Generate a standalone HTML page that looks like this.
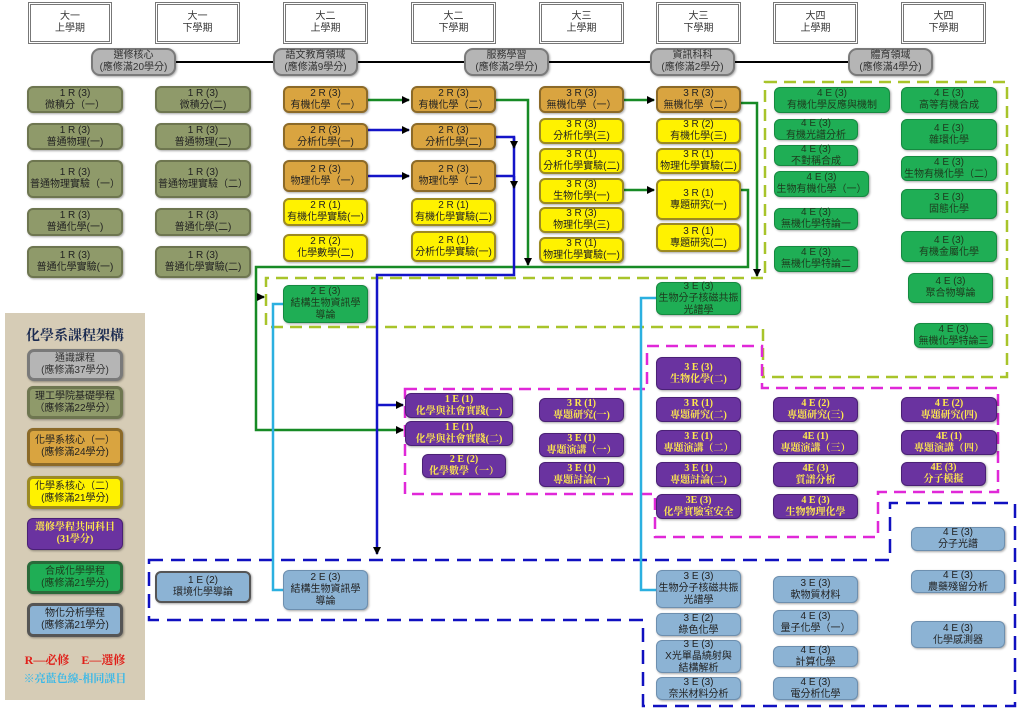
<!DOCTYPE html>
<html><head><meta charset="utf-8">
<style>
html,body{margin:0;padding:0;background:#fff;}
#c{position:relative;width:1024px;height:715px;overflow:hidden;font-family:"Liberation Sans","Noto Sans CJK TC",sans-serif;}
.b{position:absolute;box-sizing:border-box;display:flex;align-items:center;justify-content:center;text-align:center;font-size:10px;line-height:12px;border-radius:6px;white-space:nowrap;box-shadow:1px 1px 2px rgba(0,0,0,.35);}
.h{background:#fff;border:3px double #777;border-radius:0;box-shadow:none;color:#333;font-size:10px;}
.g{background:#b5b5b5;border:2px solid #7a7a7a;color:#333;border-radius:9px;}
.o{background:#8f9a6a;border:2px solid #6e7650;color:#222;}
.r{background:#d9a440;border:2px solid #8c6a28;color:#222;}
.y{background:#fff200;border:2px solid #9c8a22;color:#222;}
.p{background:#6a33a0;border:1px solid #4a2075;color:#ffe94d;font-weight:bold;font-family:"Liberation Serif","Noto Serif CJK SC",serif;}
.n{background:#1fae55;border:1px solid #158a40;color:#1d3a1d;}
.l{background:#8cb3d4;border:1px solid #6d8faf;color:#222;}
.lg{border-width:3px;}
</style></head><body><div id="c">
<svg width="1024" height="715" style="position:absolute;left:0;top:0">
<defs><marker id="a" markerWidth="8" markerHeight="8" refX="7" refY="4" orient="auto" markerUnits="userSpaceOnUse"><path d="M0,0L8,4L0,8z" fill="#000"/></marker></defs>
<rect x="5" y="313" width="140" height="387" fill="#d6ccb6"/>
<line x1="176" y1="62" x2="848" y2="62" stroke="#000" stroke-width="2"/>
<!-- green dashed -->
<path d="M765,82 L1007,82 L1007,377 L763,377 L763,327 L266,327 L266,278 L765,278 Z" fill="none" stroke="#a8c42a" stroke-width="2.5" stroke-dasharray="12,7"/>
<!-- magenta dashed -->
<path d="M405,389 L647,389 L647,346 L762,346 L762,388 L998,388 L998,492 L878,492 L878,537 L655,537 L655,494 L405,494 Z" fill="none" stroke="#e028d8" stroke-width="2.5" stroke-dasharray="12,7"/>
<!-- blue dashed -->
<path d="M149,560 L890,560 L890,503 L1015,503 L1015,706 L643,706 L643,620 L149,620 Z" fill="none" stroke="#1010c0" stroke-width="2.5" stroke-dasharray="14,8"/>
<g fill="none" stroke-width="2.5">
<!-- green -->
<path d="M368,100 L409,100" stroke="#178a25" marker-end="url(#a)"/>
<path d="M496,100 L528,100 L528,265" stroke="#178a25" marker-end="url(#a)"/>
<path d="M624,100 L654,100" stroke="#178a25" marker-end="url(#a)"/>
<path d="M741,103 L757,103 L757,276" stroke="#178a25" marker-end="url(#a)"/>
<path d="M624,190 L654,190" stroke="#178a25" marker-end="url(#a)"/>
<path d="M741,190 L748,190 L748,267 L256,267 L256,430 L403,430" stroke="#178a25" marker-end="url(#a)"/>
<path d="M256,297 L264,297" stroke="#178a25" marker-end="url(#a)"/>
<!-- blue -->
<path d="M368,130 L409,130" stroke="#1414c8" marker-end="url(#a)"/>
<path d="M368,176 L409,176" stroke="#1414c8" marker-end="url(#a)"/>
<path d="M496,137 L514,137 L514,275 L377,275 L377,554" stroke="#1414c8" marker-end="url(#a)"/>
<path d="M496,176 L514,176" stroke="#1414c8"/>
<path d="M514,137 L514,148" stroke="#1414c8" marker-end="url(#a)"/>
<path d="M514,176 L514,188" stroke="#1414c8" marker-end="url(#a)"/>
<path d="M377,405 L403,405" stroke="#1414c8" marker-end="url(#a)"/>
<!-- cyan -->
<path d="M283,304 L273,304 L273,590 L283,590" stroke="#2bb0e0"/>
<path d="M656,298 L641,298 L641,590 L656,590" stroke="#2bb0e0"/>
</g>
</svg>

<!-- headers -->
<div class="b h" style="left:28px;top:2px;width:84px;height:42px">大一<br>上學期</div>
<div class="b h" style="left:155px;top:2px;width:85px;height:42px">大一<br>下學期</div>
<div class="b h" style="left:283px;top:2px;width:85px;height:42px">大二<br>上學期</div>
<div class="b h" style="left:411px;top:2px;width:85px;height:42px">大二<br>下學期</div>
<div class="b h" style="left:539px;top:2px;width:85px;height:42px">大三<br>上學期</div>
<div class="b h" style="left:656px;top:2px;width:85px;height:42px">大三<br>下學期</div>
<div class="b h" style="left:773px;top:2px;width:85px;height:42px">大四<br>上學期</div>
<div class="b h" style="left:901px;top:2px;width:85px;height:42px">大四<br>下學期</div>

<div class="b g" style="left:91px;top:48px;width:85px;height:28px">選修核心<br>(應修滿20學分)</div>
<div class="b g" style="left:273px;top:48px;width:85px;height:28px">語文教育領域<br>(應修滿9學分)</div>
<div class="b g" style="left:464px;top:48px;width:85px;height:28px">服務學習<br>(應修滿2學分)</div>
<div class="b g" style="left:650px;top:48px;width:85px;height:28px">資訊科科<br>(應修滿2學分)</div>
<div class="b g" style="left:848px;top:48px;width:85px;height:28px">體育領域<br>(應修滿4學分)</div>

<!-- col1/2 -->
<div class="b o" style="left:27px;top:86px;width:96px;height:27px">1 R (3)<br>微積分（一）</div>
<div class="b o" style="left:27px;top:123px;width:96px;height:27px">1 R (3)<br>普通物理(一)</div>
<div class="b o" style="left:27px;top:160px;width:96px;height:38px">1 R (3)<br>普通物理實驗（一）</div>
<div class="b o" style="left:27px;top:208px;width:96px;height:28px">1 R (3)<br>普通化學(一)</div>
<div class="b o" style="left:27px;top:246px;width:96px;height:32px">1 R (3)<br>普通化學實驗(一)</div>
<div class="b o" style="left:155px;top:86px;width:96px;height:27px">1 R (3)<br>微積分(二)</div>
<div class="b o" style="left:155px;top:123px;width:96px;height:27px">1 R (3)<br>普通物理(二)</div>
<div class="b o" style="left:155px;top:160px;width:96px;height:38px">1 R (3)<br>普通物理實驗（二）</div>
<div class="b o" style="left:155px;top:208px;width:96px;height:28px">1 R (3)<br>普通化學(二)</div>
<div class="b o" style="left:155px;top:246px;width:96px;height:32px">1 R (3)<br>普通化學實驗(二)</div>

<!-- col3/4 -->
<div class="b r" style="left:283px;top:86px;width:85px;height:27px">2 R (3)<br>有機化學（一）</div>
<div class="b r" style="left:283px;top:123px;width:85px;height:27px">2 R (3)<br>分析化學(一)</div>
<div class="b r" style="left:283px;top:160px;width:85px;height:32px">2 R (3)<br>物理化學（一）</div>
<div class="b y" style="left:283px;top:198px;width:85px;height:28px">2 R (1)<br>有機化學實驗(一)</div>
<div class="b y" style="left:283px;top:234px;width:85px;height:28px">2 R (2)<br>化學數學(二)</div>
<div class="b r" style="left:411px;top:86px;width:85px;height:27px">2 R (3)<br>有機化學（二）</div>
<div class="b r" style="left:411px;top:123px;width:85px;height:27px">2 R (3)<br>分析化學(二)</div>
<div class="b r" style="left:411px;top:160px;width:85px;height:32px">2 R (3)<br>物理化學（二）</div>
<div class="b y" style="left:411px;top:198px;width:85px;height:28px">2 R (1)<br>有機化學實驗(二)</div>
<div class="b y" style="left:411px;top:231px;width:85px;height:31px">2 R (1)<br>分析化學實驗(一)</div>

<!-- col5/6 -->
<div class="b r" style="left:539px;top:86px;width:85px;height:27px">3 R (3)<br>無機化學（一）</div>
<div class="b y" style="left:539px;top:118px;width:85px;height:26px">3 R (3)<br>分析化學(三)</div>
<div class="b y" style="left:539px;top:148px;width:85px;height:26px">3 R (1)<br>分析化學實驗(二)</div>
<div class="b y" style="left:539px;top:178px;width:85px;height:26px">3 R (3)<br>生物化學(一)</div>
<div class="b y" style="left:539px;top:207px;width:85px;height:26px">3 R (3)<br>物理化學(三)</div>
<div class="b y" style="left:539px;top:237px;width:85px;height:26px">3 R (1)<br>物理化學實驗(一)</div>
<div class="b r" style="left:656px;top:86px;width:85px;height:27px">3 R (3)<br>無機化學（二）</div>
<div class="b y" style="left:656px;top:118px;width:85px;height:26px">3 R (2)<br>有機化學(三)</div>
<div class="b y" style="left:656px;top:148px;width:85px;height:26px">3 R (1)<br>物理化學實驗(二)</div>
<div class="b y" style="left:656px;top:179px;width:85px;height:41px">3 R (1)<br>專題研究(一)</div>
<div class="b y" style="left:656px;top:223px;width:85px;height:29px">3 R (1)<br>專題研究(二)</div>

<!-- green -->
<div class="b n" style="left:774px;top:87px;width:116px;height:26px">4 E (3)<br>有機化學反應與機制</div>
<div class="b n" style="left:774px;top:119px;width:84px;height:21px">4 E (3)<br>有機光譜分析</div>
<div class="b n" style="left:774px;top:145px;width:84px;height:21px">4 E (3)<br>不對稱合成</div>
<div class="b n" style="left:774px;top:171px;width:95px;height:26px">4 E (3)<br>生物有機化學（一）</div>
<div class="b n" style="left:774px;top:208px;width:84px;height:22px">4 E (3)<br>無機化學特論一</div>
<div class="b n" style="left:774px;top:246px;width:84px;height:26px">4 E (3)<br>無機化學特論二</div>
<div class="b n" style="left:901px;top:87px;width:96px;height:26px">4 E (3)<br>高等有機合成</div>
<div class="b n" style="left:901px;top:119px;width:96px;height:31px">4 E (3)<br>雜環化學</div>
<div class="b n" style="left:901px;top:156px;width:96px;height:25px">4 E (3)<br>生物有機化學（二）</div>
<div class="b n" style="left:901px;top:189px;width:96px;height:30px">3 E (3)<br>固態化學</div>
<div class="b n" style="left:901px;top:231px;width:96px;height:31px">4 E (3)<br>有機金屬化學</div>
<div class="b n" style="left:908px;top:273px;width:85px;height:30px">4 E (3)<br>聚合物導論</div>
<div class="b n" style="left:914px;top:323px;width:79px;height:25px">4 E (3)<br>無機化學特論三</div>
<div class="b n" style="left:283px;top:285px;width:85px;height:38px">2 E (3)<br>結構生物資訊學<br>導論</div>
<div class="b n" style="left:656px;top:282px;width:85px;height:33px">3 E (3)<br>生物分子核磁共振<br>光譜學</div>

<!-- purple -->
<div class="b p" style="left:405px;top:393px;width:108px;height:25px">1 E (1)<br>化學與社會實踐(一)</div>
<div class="b p" style="left:405px;top:421px;width:108px;height:25px">1 E (1)<br>化學與社會實踐(二)</div>
<div class="b p" style="left:422px;top:454px;width:84px;height:24px">2 E (2)<br>化學數學（一）</div>
<div class="b p" style="left:539px;top:398px;width:85px;height:24px">3 R (1)<br>專題研究(一)</div>
<div class="b p" style="left:539px;top:433px;width:85px;height:24px">3 E (1)<br>專題演講（一）</div>
<div class="b p" style="left:539px;top:462px;width:85px;height:25px">3 E (1)<br>專題討論(一)</div>
<div class="b p" style="left:656px;top:357px;width:85px;height:33px">3 E (3)<br>生物化學(二)</div>
<div class="b p" style="left:656px;top:397px;width:85px;height:25px">3 R (1)<br>專題研究(二)</div>
<div class="b p" style="left:656px;top:430px;width:85px;height:25px">3 E (1)<br>專題演講（二）</div>
<div class="b p" style="left:656px;top:462px;width:85px;height:25px">3 E (1)<br>專題討論(二)</div>
<div class="b p" style="left:656px;top:494px;width:85px;height:25px">3E (3)<br>化學實驗室安全</div>
<div class="b p" style="left:773px;top:397px;width:85px;height:25px">4 E (2)<br>專題研究(三)</div>
<div class="b p" style="left:773px;top:430px;width:85px;height:25px">4E (1)<br>專題演講（三）</div>
<div class="b p" style="left:773px;top:462px;width:85px;height:25px">4E (3)<br>質譜分析</div>
<div class="b p" style="left:773px;top:494px;width:85px;height:25px">4 E (3)<br>生物物理化學</div>
<div class="b p" style="left:901px;top:397px;width:96px;height:25px">4 E (2)<br>專題研究(四)</div>
<div class="b p" style="left:901px;top:430px;width:96px;height:25px">4E (1)<br>專題演講（四）</div>
<div class="b p" style="left:901px;top:462px;width:85px;height:24px">4E (3)<br>分子模擬</div>

<!-- light blue -->
<div class="b l" style="left:155px;top:571px;width:96px;height:32px;border:2px solid #555">1 E (2)<br>環境化學導論</div>
<div class="b l" style="left:283px;top:570px;width:85px;height:40px">2 E (3)<br>結構生物資訊學<br>導論</div>
<div class="b l" style="left:656px;top:570px;width:85px;height:38px">3 E (3)<br>生物分子核磁共振<br>光譜學</div>
<div class="b l" style="left:656px;top:613px;width:85px;height:23px">3 E (2)<br>綠色化學</div>
<div class="b l" style="left:656px;top:640px;width:85px;height:33px">3 E (3)<br>X光單晶繞射與<br>結構解析</div>
<div class="b l" style="left:656px;top:677px;width:85px;height:23px">3 E (3)<br>奈米材料分析</div>
<div class="b l" style="left:773px;top:576px;width:85px;height:27px">3 E (3)<br>軟物質材料</div>
<div class="b l" style="left:773px;top:610px;width:85px;height:25px">4 E (3)<br>量子化學（一）</div>
<div class="b l" style="left:773px;top:646px;width:85px;height:21px">4 E (3)<br>計算化學</div>
<div class="b l" style="left:773px;top:677px;width:85px;height:23px">4 E (3)<br>電分析化學</div>
<div class="b l" style="left:911px;top:527px;width:94px;height:24px">4 E (3)<br>分子光譜</div>
<div class="b l" style="left:911px;top:570px;width:94px;height:23px">4 E (3)<br>農藥殘留分析</div>
<div class="b l" style="left:911px;top:621px;width:94px;height:27px">4 E (3)<br>化學感測器</div>

<!-- legend -->
<div style="position:absolute;left:5px;top:325px;width:140px;text-align:center;font-size:14px;font-weight:bold;color:#1a2a50;font-family:'Liberation Serif','Noto Serif CJK SC',serif;">化學系課程架構</div>
<div class="b g lg" style="left:27px;top:349px;width:96px;height:32px;border-radius:7px">通識課程<br>(應修滿37學分)</div>
<div class="b o lg" style="left:27px;top:386px;width:96px;height:33px">理工學院基礎學程<br>（應修滿22學分）</div>
<div class="b r lg" style="left:27px;top:428px;width:96px;height:38px">化學系核心（一）<br>(應修滿24學分)</div>
<div class="b y lg" style="left:27px;top:476px;width:96px;height:33px">化學系核心（二）<br>(應修滿21學分)</div>
<div class="b p" style="left:27px;top:518px;width:96px;height:32px">選修學程共同科目<br>(31學分)</div>
<div class="b n lg" style="left:27px;top:561px;width:96px;height:33px;border-color:#2a6a3a">合成化學學程<br>(應修滿21學分)</div>
<div class="b l lg" style="left:27px;top:603px;width:96px;height:34px;border-color:#555">物化分析學程<br>(應修滿21學分)</div>
<div style="position:absolute;left:5px;top:651px;width:140px;text-align:center;font-size:12px;font-weight:bold;color:#e0201a;font-family:'Liberation Serif','Noto Serif CJK SC',serif;">R—必修　E—選修</div>
<div style="position:absolute;left:5px;top:670px;width:140px;text-align:center;font-size:11px;font-weight:bold;color:#3ab8e8;font-family:'Liberation Serif','Noto Serif CJK SC',serif;">※亮藍色線-相同課目</div>
</div></body></html>
